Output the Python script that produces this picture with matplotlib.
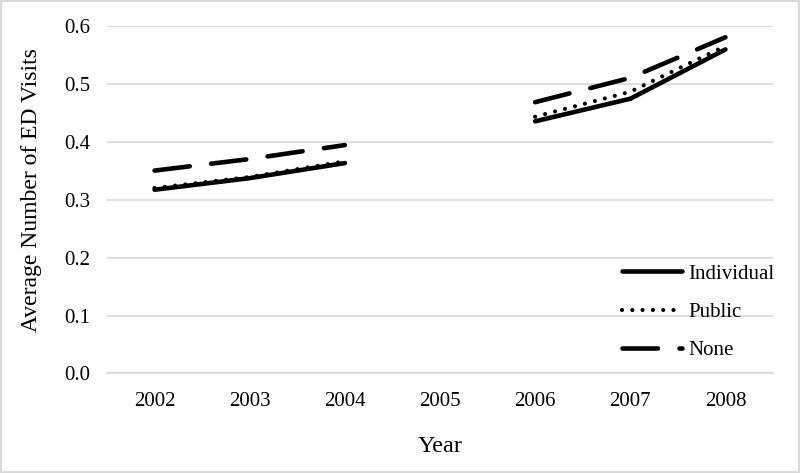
import matplotlib
matplotlib.use("Agg")
import matplotlib.pyplot as plt
import numpy as np

years = ["2002", "2003", "2004", "2005", "2006", "2007", "2008"]
individual = [0.317, 0.337, 0.363, np.nan, 0.435, 0.474, 0.559]
public = [0.320, 0.339, 0.366, np.nan, 0.443, 0.486, 0.565]
none = [0.350, 0.370, 0.394, np.nan, 0.468, 0.510, 0.580]
yticks = [0.0, 0.1, 0.2, 0.3, 0.4, 0.5, 0.6]

plt.rcParams['font.family'] = ['Liberation Serif', 'DejaVu Serif']
plt.rcParams['lines.scale_dashes'] = False

fig = plt.figure(figsize=(8.0, 4.73), dpi=100)
fig.patch.set_edgecolor('#d9d9d9')
fig.patch.set_linewidth(1.5)
ax = fig.add_axes([0.13375, 0.2104, 0.8325, 0.7353])

x = np.arange(len(years))
lw = 3.3
ax.plot(x, individual, color='black', lw=lw, solid_capstyle='round', label='Individual')
ax.plot(x, public, color='black', lw=3.0, linestyle=(0, (0.01, 7.4)), dash_capstyle='round', label='Public')
ax.plot(x, none, color='black', lw=lw, linestyle=(0, (25.5, 15.5)), dash_capstyle='round', label='None')

ax.set_xlim(-0.5, len(years) - 0.5)
ax.set_ylim(0, 0.6)
ax.set_xticks(x)
ax.set_xticklabels(years)
ax.set_yticks(yticks)
ax.set_yticklabels([f"{v:.1f}" for v in yticks])
ax.tick_params(axis='both', length=0, labelsize=15)
ax.tick_params(axis='y', pad=12)
ax.tick_params(axis='x', pad=13)
ax.grid(axis='y', color='#d9d9d9', lw=1.2)
ax.set_axisbelow(True)
for s in ['top', 'right', 'left']:
    ax.spines[s].set_visible(False)
ax.spines['bottom'].set_color('#d9d9d9')
ax.spines['bottom'].set_linewidth(1.2)

ax.set_ylabel('Average Number of ED Visits', fontsize=17)
ax.yaxis.set_label_coords(-0.0976, 0.526)
ax.set_xlabel('Year', fontsize=17.5)
ax.xaxis.set_label_coords(0.5, -0.181)

leg = fig.legend(loc='upper left', bbox_to_anchor=(622 / 800, (473 - 264) / 473),
                 frameon=False, fontsize=15, handlelength=2.88, handletextpad=0.3,
                 borderpad=0, borderaxespad=0, labelspacing=0.9)

fig.savefig('out.png', dpi=100)
